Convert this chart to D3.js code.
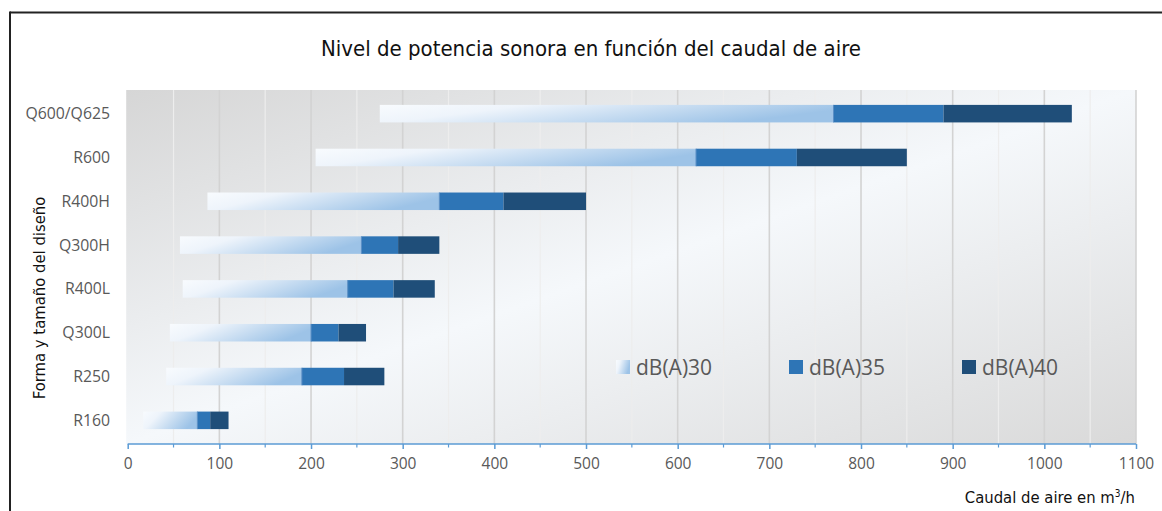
<!DOCTYPE html>
<html><head><meta charset="utf-8">
<script src="https://cdn.jsdelivr.net/npm/d3@7"></script>
<style>
html,body{margin:0;padding:0;background:#fff;}
svg{display:block;}
</style></head>
<body><svg id="c" width="1162" height="511"></svg>
<script>
const categories = ["Q600/Q625","R600","R400H","Q300H","R400L","Q300L","R250","R160"];
const startFlow = [275, 205, 87, 57, 60, 46, 42, 17];      // begin of dB(A)30 range
const db30End   = [770, 620, 340, 255, 240, 200, 190, 76];
const db35End   = [890, 730, 410, 295, 290, 230, 236, 90];
const db40End   = [1030, 850, 500, 340, 335, 260, 280, 110];
const seriesNames = ["dB(A)30","dB(A)35","dB(A)40"];
const xTicks = [0,100,200,300,400,500,600,700,800,900,1000,1100];

const svg = d3.select("#c");
const W = 1162, H = 511;
const plot = {l:127.7, r:1136, t:90, b:444};
const narrow = "'DejaVu Sans Condensed','Liberation Sans Narrow',sans-serif";
const labelFont = "'Open Sans','Noto Sans',sans-serif";

const defs = svg.append("defs");
const bg = defs.append("linearGradient").attr("id","bg").attr("x1",0).attr("y1",0).attr("x2",1).attr("y2",1);
bg.append("stop").attr("offset",0).attr("stop-color","#d6d6d6");
bg.append("stop").attr("offset",0.5).attr("stop-color","#f5f8fb");
bg.append("stop").attr("offset",1).attr("stop-color","#d9d9d9");
const g30 = defs.append("linearGradient").attr("id","g30").attr("x1",0).attr("y1",0).attr("x2",1).attr("y2",0.3);
g30.append("stop").attr("offset",0).attr("stop-color","#f8fbfe");
g30.append("stop").attr("offset",0.3).attr("stop-color","#eef4fb");
g30.append("stop").attr("offset",1).attr("stop-color","#9dc3e7");

// frame
svg.append("line").attr("x1",10).attr("x2",W).attr("y1",12.5).attr("y2",12.5).attr("stroke","#222").attr("stroke-width",2);
svg.append("line").attr("x1",10).attr("x2",10).attr("y1",11.5).attr("y2",H).attr("stroke","#222").attr("stroke-width",2);

const x = d3.scaleLinear().domain([0,1100]).range([plot.l, plot.r]);
const y = d3.scaleBand().domain(categories).range([plot.t, plot.b]).paddingInner(0.6).paddingOuter(0.34);

svg.append("rect").attr("x",plot.l-1.5).attr("y",plot.t).attr("width",plot.r-plot.l+1.5).attr("height",plot.b-plot.t).attr("fill","url(#bg)");

// gridlines
const minor = d3.range(50,1100,100);
svg.append("g").selectAll("line").data(minor).join("line")
  .attr("x1",d=>x(d)).attr("x2",d=>x(d)).attr("y1",plot.t).attr("y2",plot.b)
  .attr("stroke","#ededed").attr("stroke-width",1.2);
svg.append("g").selectAll("line").data(xTicks.slice(1)).join("line")
  .attr("x1",d=>x(d)).attr("x2",d=>x(d)).attr("y1",plot.t).attr("y2",plot.b)
  .attr("stroke","#d3d3d3").attr("stroke-width",1.6);

// bars
const rows = categories.map((c,i)=>({c, s:startFlow[i], a:db30End[i], b:db35End[i], e:db40End[i]}));
const bars = svg.append("g");
bars.selectAll(".b30").data(rows).join("rect").attr("class","b30")
  .attr("x",d=>x(d.s)).attr("width",d=>x(d.a)-x(d.s)).attr("y",d=>y(d.c)).attr("height",y.bandwidth()).attr("fill","url(#g30)");
bars.selectAll(".b35").data(rows).join("rect").attr("class","b35")
  .attr("x",d=>x(d.a)).attr("width",d=>x(d.b)-x(d.a)).attr("y",d=>y(d.c)).attr("height",y.bandwidth()).attr("fill","#2e75b6");
bars.selectAll(".b40").data(rows).join("rect").attr("class","b40")
  .attr("x",d=>x(d.b)).attr("width",d=>x(d.e)-x(d.b)).attr("y",d=>y(d.c)).attr("height",y.bandwidth()).attr("fill","#1f4e79");
bars.selectAll(".sep").data(rows).join("line").attr("class","sep")
  .attr("x1",d=>x(d.a)).attr("x2",d=>x(d.a)).attr("y1",d=>y(d.c)).attr("y2",d=>y(d.c)+y.bandwidth())
  .attr("stroke","#5b8fc6").attr("stroke-width",1);

// x axis
const xAxis = d3.axisBottom(x).tickValues(xTicks).tickFormat(d3.format("d")).tickSize(5).tickPadding(9);
const xg = svg.append("g").attr("transform",`translate(0,${plot.b})`).call(xAxis);
xg.select(".domain").attr("stroke","#5b9bd5").attr("stroke-width",1.5).attr("d",`M${plot.l},0H${plot.r}`);
xg.selectAll(".tick line").attr("stroke","#5b9bd5").attr("stroke-width",1.5);
xg.selectAll(".tick text").attr("fill","#595959").style("font-family",labelFont).style("font-size","15.5px");
svg.append("g").selectAll("line").data(minor).join("line")
  .attr("x1",d=>x(d)).attr("x2",d=>x(d)).attr("y1",plot.b).attr("y2",plot.b+3.5)
  .attr("stroke","#5b9bd5").attr("stroke-width",1.2);

// y labels
svg.append("g").selectAll("text").data(categories).join("text")
  .attr("x",110).attr("y",d=>y(d)+y.bandwidth()/2).attr("dy","0.35em").attr("text-anchor","end")
  .attr("fill","#595959").style("font-family",labelFont).style("font-size","15.8px").text(d=>d);

// titles
svg.append("text").attr("x",591).attr("y",56).attr("text-anchor","middle").attr("fill","#111")
  .style("font-family",narrow).style("font-size","22px").text("Nivel de potencia sonora en función del caudal de aire");
svg.append("text").attr("transform","translate(45,298) rotate(-90)").attr("text-anchor","middle").attr("fill","#111")
  .style("font-family",narrow).style("font-size","16.5px").text("Forma y tamaño del diseño");
const xt = svg.append("text").attr("x",1135).attr("y",503).attr("text-anchor","end").attr("fill","#111")
  .style("font-family",narrow).style("font-size","16.5px");
xt.append("tspan").text("Caudal de aire en m");
xt.append("tspan").attr("dy",-6).style("font-size","10px").text("3");
xt.append("tspan").attr("dy",6).text("/h");

// legend
const legX = [616, 789, 962];
const fills = ["url(#g30)","#2e75b6","#1f4e79"];
const lg = svg.append("g").selectAll("g").data(seriesNames).join("g").attr("transform",(d,i)=>`translate(${legX[i]},360)`);
lg.append("rect").attr("width",14).attr("height",14).attr("fill",(d,i)=>fills[i]);
lg.append("text").attr("x",20).attr("y",7).attr("dy","0.36em").attr("fill","#595959")
  .style("font-family",labelFont).style("font-size","21px").text(d=>d);
</script></body></html>
